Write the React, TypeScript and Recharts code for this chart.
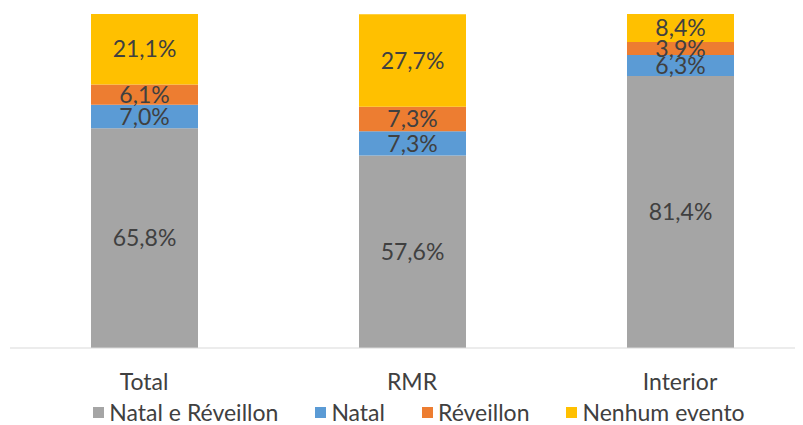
import React from 'react';
import { BarChart, Bar, XAxis, YAxis, Legend, LabelList } from 'recharts';

const categories = ['Total', 'RMR', 'Interior'];
const natalReveillon = [65.8, 57.6, 81.4];
const natal = [7.0, 7.3, 6.3];
const reveillon = [6.1, 7.3, 3.9];
const nenhumEvento = [21.1, 27.7, 8.4];

const seriesKeys = ['natalReveillon', 'natal', 'reveillon', 'nenhumEvento'];
const seriesNames = ['Natal e Réveillon', 'Natal', 'Réveillon', 'Nenhum evento'];
const seriesColors = ['#A5A5A5', '#5B9BD5', '#ED7D31', '#FFC000'];

const data = categories.map((c, i) => ({
  category: c,
  natalReveillon: natalReveillon[i],
  natal: natal[i],
  reveillon: reveillon[i],
  nenhumEvento: nenhumEvento[i],
}));

const FONT = 'Lato, "Open Sans", sans-serif';
const TEXT = '#404040';

const fmt = (v: any) => `${Number(v).toFixed(1).replace('.', ',')}%`;

const LegendContent = () => (
  <div
    style={{
      display: 'flex',
      justifyContent: 'center',
      alignItems: 'center',
      gap: 37,
      fontFamily: FONT,
      fontSize: 23,
      color: TEXT,
      lineHeight: '24px',
      height: 24,
      paddingTop: 2,
      paddingLeft: 14,
    }}
  >
    {seriesNames.map((n, i) => (
      <div key={n} style={{ display: 'flex', alignItems: 'center', gap: 5, height: 24 }}>
        <span style={{ width: 11, height: 11, background: seriesColors[i], display: 'inline-block' }} />
        <span style={{ display: 'inline-block', lineHeight: '24px', height: 24 }}>{n}</span>
      </div>
    ))}
  </div>
);

export default function App() {
  return (
    <div style={{ width: 795, height: 417, overflow: 'hidden' }}>
      <BarChart
        width={806}
        height={417}
        data={data}
        margin={{ top: 6, right: 0, bottom: 0, left: 2 }}
        barSize={107}
      >
        <XAxis
          dataKey="category"
          axisLine={{ stroke: '#D9D9D9', strokeWidth: 1 }}
          tickLine={false}
          tickSize={0}
          tickMargin={26}
          height={50}
          tick={{ fill: TEXT, fontSize: 23, fontFamily: FONT }}
        />
        <YAxis hide domain={[0, 100]} type="number" />
        <Legend verticalAlign="bottom" height={27} content={<LegendContent />} />
        {seriesKeys.map((k, i) => (
          <Bar
            key={k}
            dataKey={k}
            name={seriesNames[i]}
            stackId="a"
            fill={seriesColors[i]}
            isAnimationActive={false}
          >
            <LabelList
              dataKey={k}
              position="center"
              formatter={fmt}
              style={{ fill: TEXT, fontSize: 23, fontFamily: FONT }}
            />
          </Bar>
        ))}
      </BarChart>
    </div>
  );
}
